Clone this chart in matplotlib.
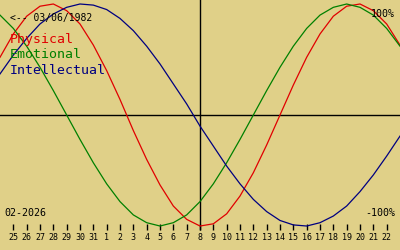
import matplotlib
matplotlib.use("Agg")
import matplotlib.pyplot as plt

# day labels along the bottom (25 Jan .. 22 Feb), plus one day hidden at each edge
days = ["25", "26", "27", "28", "29", "30", "31"] + [str(d) for d in range(1, 23)]
today = 15  # index of the vertical marker (8)

# curve values per day, index 0 = left edge (24 Jan) .. 30 = right edge (23 Feb)
physical = [0.52, 0.73, 0.89, 0.98, 1.00, 0.94, 0.82, 0.63, 0.40, 0.14,
            -0.14, -0.40, -0.63, -0.82, -0.94, -1.00, -0.98, -0.89, -0.73, -0.52,
            -0.27, 0.00, 0.27, 0.52, 0.73, 0.89, 0.98, 1.00, 0.94, 0.82, 0.63]
emotional = [0.90, 0.78, 0.62, 0.43, 0.22, 0.00, -0.22, -0.43, -0.62, -0.78,
             -0.90, -0.97, -1.00, -0.97, -0.90, -0.78, -0.62, -0.43, -0.22, 0.00,
             0.22, 0.43, 0.62, 0.78, 0.90, 0.97, 1.00, 0.97, 0.90, 0.78, 0.62]
intellectual = [0.37, 0.54, 0.69, 0.82, 0.91, 0.97, 1.00, 0.99, 0.95, 0.87,
                0.76, 0.62, 0.46, 0.28, 0.10, -0.10, -0.28, -0.46, -0.62, -0.76,
                -0.87, -0.95, -0.99, -1.00, -0.97, -0.91, -0.82, -0.69, -0.54, -0.37, -0.19]

bg = "#e0d088"
red = "#e00000"
green = "#008000"
blue = "#000080"
mono = "DejaVu Sans Mono"

fig = plt.figure(figsize=(4, 2.5), dpi=100, facecolor=bg)
ax = fig.add_axes([0, 0, 1, 1], facecolor=bg)

x = list(range(len(physical)))
ax.axhline(0, color="black", lw=1)
ax.vlines(today, -1.036, 1.1, color="black", lw=1)
ax.plot(x, physical, color=red, lw=0.9)
ax.plot(x, emotional, color=green, lw=0.9)
ax.plot(x, intellectual, color=blue, lw=0.9)

ax.set_xlim(0, 30)
ax.set_ylim(-1.216, 1.036)

# tick marks sit just under the curves, labels below them
for s in ["top", "left", "right", "bottom"]:
    ax.spines[s].set_visible(False)
ax.spines["bottom"].set_position(("data", -1.036))
ax.set_xticks(range(1, len(days) + 1))
ax.set_xticklabels(days, fontsize=6, family=mono)
ax.tick_params(axis="x", direction="in", length=4, width=1, pad=2.5, colors="black")
ax.set_yticks([])

def px(xp, yp):
    return xp / 400, 1 - yp / 250

ax.text(*px(10, 20.5), "<-- 03/06/1982", transform=ax.transAxes, fontsize=7, family=mono)
ax.text(*px(10, 43), "Physical", transform=ax.transAxes, fontsize=9.5, family=mono, color=red)
ax.text(*px(10, 58.5), "Emotional", transform=ax.transAxes, fontsize=9.5, family=mono, color=green)
ax.text(*px(10, 73.5), "Intellectual", transform=ax.transAxes, fontsize=9.5, family=mono, color=blue)
ax.text(*px(4, 216), "02-2026", transform=ax.transAxes, fontsize=7.2, family=mono)
ax.text(*px(395, 17), "100%", transform=ax.transAxes, fontsize=7.2, family=mono, ha="right")
ax.text(*px(395, 216), "-100%", transform=ax.transAxes, fontsize=7.2, family=mono, ha="right")

fig.savefig("out.png", dpi=100, facecolor=bg)
